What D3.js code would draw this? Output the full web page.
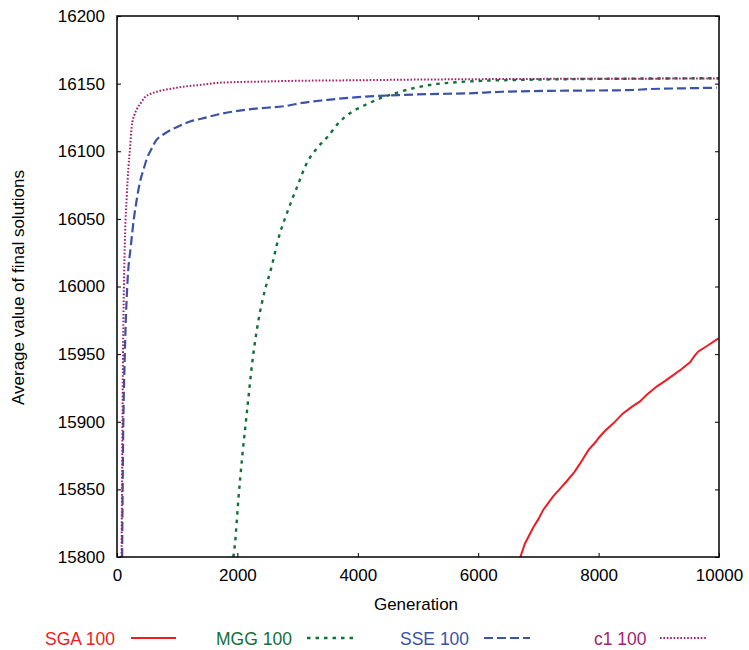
<!DOCTYPE html>
<html><head><meta charset="utf-8">
<script src="https://cdn.jsdelivr.net/npm/d3@7"></script>
<style>body{margin:0;background:#fff;} text{font-family:"Liberation Sans",Arial,sans-serif;}</style>
</head><body><svg id="c" width="749" height="650"></svg>
<script>
const xTicks = [0, 2000, 4000, 6000, 8000, 10000];
const yTicks = [15800, 15850, 15900, 15950, 16000, 16050, 16100, 16150, 16200];
const seriesNames = ["SGA 100", "MGG 100", "SSE 100", "c1 100"];

const sgaGen = [6700,6777,6916,7000,7082,7248,7350,7470,7600,7691,7830,7950,8000,8100,8250,8400,8550,8688,8800,8965,9100,9241,9380,9518,9600,9657,9800,9990];
const sgaVal = [15800,15810,15822,15828,15835,15845,15850,15856,15863,15869,15879,15885,15888,15893,15899,15906,15911,15915,15920,15926,15930,15934.5,15939,15944,15949,15952,15956,15961.6];

const mggGen = [1932,1960,2015,2082,2160,2250,2350,2450,2553,2691,2829,2995,3161,3317,3505,3682,3882,4114,4402,4690,4988,5299,5631,5975,6307,7000,8000,9000,10000];
const mggVal = [15800,15810,15842,15875,15908,15945,15975,15996,16012,16037,16055,16074,16092,16102,16111,16121,16128.5,16134,16139.6,16143.8,16147.3,16149.7,16151,16151.9,16152.4,16153,16153.5,16153.8,16154];

const sseGen = [85,100,130,170,230,280,327,380,437,500,576,650,725,825,1000,1213,1400,1656,1761,2200,2874,3040,3500,4000,4369,4701,5200,5809,6400,6916,7500,8200,8571,8854,9400,9962];
const sseVal = [15800,15880,15950,16000,16030,16050,16064,16077,16086,16095,16102,16108,16111,16114,16118,16122,16124,16127,16128,16131,16134,16135.5,16138,16140,16141,16141.6,16142.3,16142.8,16144,16144.5,16144.8,16145,16145.3,16146,16146.5,16147];

const c1Gen = [75,88,100,115,135,161,190,216,244,290,327,400,465,560,659,800,935,1150,1379,1650,1877,2400,2874,4000,5000,6000,7000,8000,9000,10000];
const c1Val = [15800,15880,15950,16000,16040,16066,16088,16102,16118,16127,16131,16136,16140,16142.5,16144,16145.5,16146.5,16148,16149,16150.5,16151,16151.5,16152,16152.5,16153,16153.3,16153.5,16153.6,16153.7,16153.8];

const colors = ["#ed1c24", "#127039", "#3a53a4", "#a21f6e"];
const dashes = [null, "3.5,5", "9,4", "1.6,1.8"];
const widths = [2, 2.4, 2.2, 2];
const gens = [sgaGen, mggGen, sseGen, c1Gen];
const vals = [sgaVal, mggVal, sseVal, c1Val];

const svg = d3.select("#c");
const L = 117, T = 16, W = 602, H = 541;
const FONT = "'Liberation Sans',Arial,sans-serif";

const x = d3.scaleLinear().domain([0, 10000]).range([L, L + W]);
const y = d3.scaleLinear().domain([15800, 16200]).range([T + H, T]);

svg.append("defs").append("clipPath").attr("id", "clip")
  .append("rect").attr("x", L).attr("y", T).attr("width", W).attr("height", H);

const plot = svg.append("g").attr("clip-path", "url(#clip)");
const smooth = d3.line().x(d => x(d[0])).y(d => y(d[1])).curve(d3.curveMonotoneX);
const straight = d3.line().x(d => x(d[0])).y(d => y(d[1]));
[0, 2, 1, 3].forEach(i => {
  const data = gens[i].map((g, k) => [g, vals[i][k]]);
  plot.append("path").attr("d", i === 0 ? straight(data) : smooth(data))
    .attr("fill", "none").attr("stroke", colors[i]).attr("stroke-width", widths[i])
    .attr("stroke-dasharray", dashes[i]);
});

const fs = "17px";
const gx = svg.append("g").attr("transform", `translate(0,${T + H})`)
  .call(d3.axisBottom(x).tickValues(xTicks).tickSize(-4).tickPadding(12).tickFormat(d3.format("d")));
const gy = svg.append("g").attr("transform", `translate(${L},0)`)
  .call(d3.axisLeft(y).tickValues(yTicks).tickSize(-4).tickPadding(12).tickFormat(d3.format("d")));
const gt = svg.append("g").attr("transform", `translate(0,${T})`)
  .call(d3.axisTop(x).tickValues(xTicks).tickSize(-4).tickFormat(""));
const gr = svg.append("g").attr("transform", `translate(${L + W},0)`)
  .call(d3.axisRight(y).tickValues(yTicks).tickSize(-4).tickFormat(""));
[gx, gy, gt, gr].forEach(g => {
  g.select(".domain").remove();
  g.selectAll("line").attr("stroke", "#000").attr("stroke-width", 1);
  g.selectAll("text").attr("fill", "#000").style("font-size", fs).style("font-family", FONT);
});

svg.append("rect").attr("x", L).attr("y", T).attr("width", W).attr("height", H)
  .attr("fill", "none").attr("stroke", "#000").attr("stroke-width", 1.5);

svg.append("text").attr("x", L + W / 2 - 2).attr("y", 610).attr("text-anchor", "middle")
  .style("font-size", fs).text("Generation");
svg.append("text").attr("transform", `translate(24,${T + H / 2 + 1}) rotate(-90)`).attr("text-anchor", "middle")
  .style("font-size", fs).text("Average value of final solutions");

// legend
const legX = [45, 216, 400, 594];
const legLine = [[131, 176], [307, 353], [484, 530], [660, 706]];
seriesNames.forEach((n, i) => {
  svg.append("text").attr("x", legX[i]).attr("y", 645).attr("fill", colors[i]).style("font-size", "17.5px").text(n);
  svg.append("line").attr("x1", legLine[i][0]).attr("x2", legLine[i][1]).attr("y1", 638).attr("y2", 638)
    .attr("stroke", colors[i]).attr("stroke-width", widths[i]).attr("stroke-dasharray", dashes[i]);
});
</script></body></html>
